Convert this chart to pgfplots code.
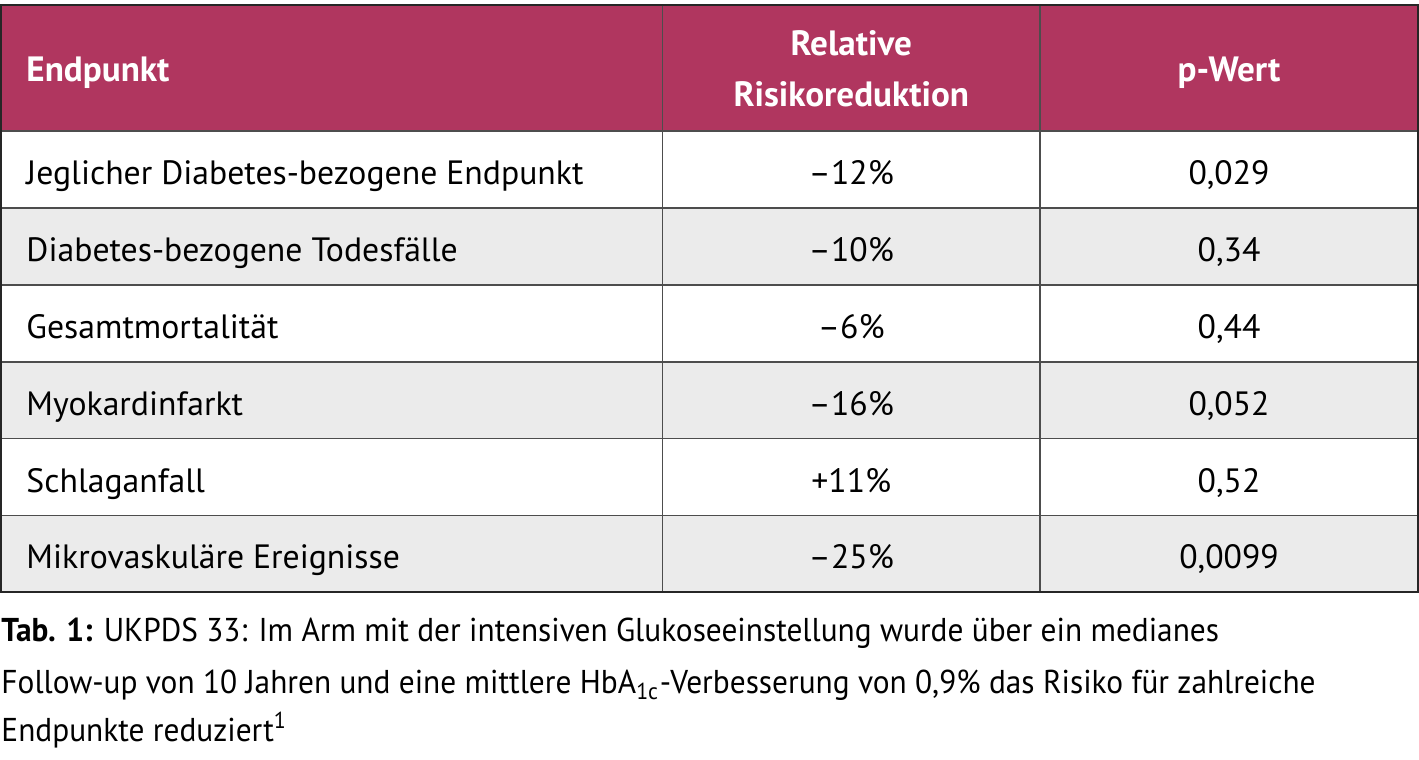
\documentclass[border=0pt]{standalone}
\usepackage{pgfplots}
\pgfplotsset{compat=1.18}
\usepackage{pgfplotstable}
\usepackage{fontspec}
\setmainfont{PT Sans}
\newfontfamily\capfont{PT Sans}[FakeStretch=0.95]
\definecolor{hdr}{HTML}{B0365F}
\definecolor{rowgray}{HTML}{EBEBEB}
\definecolor{rulegray}{HTML}{4D4D4D}

% y = baseline of each row, in pixels from the top
\pgfplotstableread[col sep=semicolon]{
y;endpunkt;rrr;pwert
185;Jeglicher Diabetes-bezogene Endpunkt;–12\%;0,029
262;Diabetes-bezogene Todesfälle;–10\%;0,34
339;Gesamtmortalität;–6\%;0,44
416;Myokardinfarkt;–16\%;0,052
493;Schlaganfall;+11\%;0,52
569;Mikrovaskuläre Ereignisse;–25\%;0,0099
}\tabdata

\newcommand{\bodyfont}{\fontsize{9.6}{11}\selectfont}
\newcommand{\captionfont}{\capfont\fontsize{9.4}{11}\selectfont}

\begin{document}
\begin{tikzpicture}
\begin{axis}[
  width=14.19cm, height=7.6cm, scale only axis,
  xmin=0, xmax=1419, ymin=0, ymax=760, y dir=reverse,
  hide axis, clip=false,
  nodes near coords={\pgfplotspointmeta},
  point meta=explicit symbolic,
]
% background and row shading
\fill[white] (axis cs:0,0) rectangle (axis cs:1419,760);
\fill[hdr] (axis cs:0,5) rectangle (axis cs:1418,131);
\fill[rowgray] (axis cs:0,208) rectangle (axis cs:1418,285);
\fill[rowgray] (axis cs:0,362) rectangle (axis cs:1418,439);
\fill[rowgray] (axis cs:0,516) rectangle (axis cs:1418,592);
% rules
\pgfplotsinvokeforeach{131,208,285,362,439,516}{
  \draw[rulegray, line width=0.45pt] (axis cs:0,#1) -- (axis cs:1418,#1);
}
\draw[rulegray, line width=0.45pt] (axis cs:662,5) -- (axis cs:662,592);
\draw[rulegray, line width=0.45pt] (axis cs:1040,5) -- (axis cs:1040,592);
\draw[black!85, line width=0.6pt] (axis cs:0.5,5) rectangle (axis cs:1418,592);

% header
\node[anchor=base west, text=white, font=\bfseries\fontsize{10}{12}\selectfont, inner sep=0pt]
  at (axis cs:25,82) {Endpunkt};
\node[anchor=base, text=white, font=\bfseries\fontsize{10}{12}\selectfont, inner sep=0pt]
  at (axis cs:851,56) {Relative};
\node[anchor=base, text=white, font=\bfseries\fontsize{10}{12}\selectfont, inner sep=0pt]
  at (axis cs:851,107) {Risikoreduktion};
\node[anchor=base, text=white, font=\bfseries\fontsize{10}{12}\selectfont, inner sep=0pt]
  at (axis cs:1229,82) {p-Wert};

% body
\addplot[draw=none, mark=none,
  every node near coord/.append style={anchor=base west, inner sep=0pt, font=\bodyfont}]
  table[x expr=25, y=y, meta=endpunkt]{\tabdata};
\addplot[draw=none, mark=none,
  every node near coord/.append style={anchor=base, inner sep=0pt, font=\bodyfont}]
  table[x expr=851, y=y, meta=rrr]{\tabdata};
\addplot[draw=none, mark=none,
  every node near coord/.append style={anchor=base, inner sep=0pt, font=\bodyfont}]
  table[x expr=1229, y=y, meta=pwert]{\tabdata};

% caption
\node[anchor=base west, inner sep=0pt, font=\captionfont] at (axis cs:0,642)
  {\textbf{Tab. 1:} UKPDS 33: Im Arm mit der intensiven Glukoseeinstellung wurde über ein medianes};
\node[anchor=base west, inner sep=0pt, font=\captionfont] at (axis cs:0,694)
  {Follow-up von 10 Jahren und eine mittlere HbA\textsubscript{1c}-Verbesserung von 0,9\% das Risiko für zahlreiche};
\node[anchor=base west, inner sep=0pt, font=\captionfont] at (axis cs:0,742)
  {Endpunkte reduziert\textsuperscript{1}};
\end{axis}
\end{tikzpicture}
\end{document}
